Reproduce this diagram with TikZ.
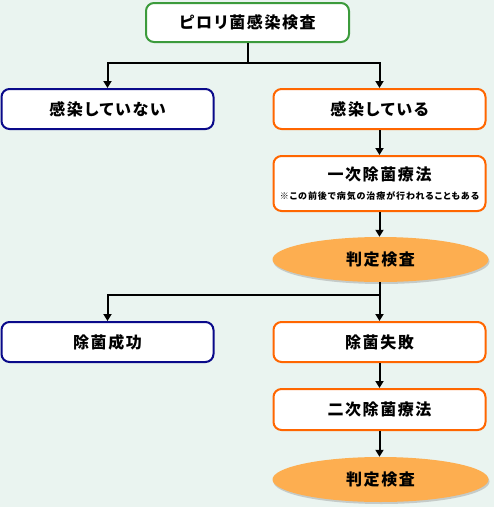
\documentclass[tikz,border=0pt]{standalone}
\usepackage{fontspec}
\newfontfamily\jpfont{Noto Sans CJK JP}[LetterSpace=10,RawFeature=+palt]
\usetikzlibrary{positioning}
\usetikzlibrary{calc}
\usetikzlibrary{arrows.meta}
\usetikzlibrary{shapes.geometric}
\usetikzlibrary{shadows}

\definecolor{bgcol}{HTML}{EAF4F0}
\definecolor{greencol}{HTML}{3C9B3C}
\definecolor{bluecol}{HTML}{0A0A8A}
\definecolor{orangecol}{HTML}{FF6600}
\definecolor{ovalcol}{HTML}{FDAE50}

\tikzset{
  stepbox/.style={draw,line width=2pt,rounded corners=8pt,fill=white,
    minimum width=212pt,minimum height=40pt,inner sep=0pt},
  ovalbox/.style={ellipse,fill=ovalcol,minimum width=216pt,minimum height=45pt,
    drop shadow={shadow xshift=1pt,shadow yshift=-2pt,opacity=0.35}},
  link/.style={line width=2pt,-{Triangle[width=8pt,length=7pt]}}
}

\begin{document}
\begin{tikzpicture}[x=1pt,y=1pt,font=\jpfont\bfseries\fontsize{16}{19}\selectfont]
\fill[bgcol] (0,0) rectangle (494,-507);
\useasboundingbox (0,0) rectangle (494,-507);

\node[stepbox,draw=greencol,minimum width=203pt,minimum height=39pt] (check) at (247.5,-22.5) {ピロリ菌感染検査};
\node[stepbox,draw=bluecol] (neg) at (107.5,-109) {感染していない};
\node[stepbox,draw=orangecol] (pos) at (379.5,-109) {感染している};
\node[stepbox,draw=orangecol,minimum height=55pt,align=center] (first) at (379.5,-183.5)
  {一次除菌療法\\[0pt]{\fontsize{9}{10}\selectfont ※この前後で病気の治療が行われることもある}};
\node[ovalbox] (judge1) at (380.5,-259.5) {判定検査};
\node[stepbox,draw=bluecol] (ok) at (107.5,-342) {除菌成功};
\node[stepbox,draw=orangecol] (fail) at (379.5,-342) {除菌失敗};
\node[stepbox,draw=orangecol,minimum height=41pt] (second) at (379.5,-409.5) {二次除菌療法};
\node[ovalbox] (judge2) at (380.5,-479.5) {判定検査};

% branches
\coordinate (split1) at ($(check.south)+(0,-19.5)$);
\draw[link] (check.south) -- (split1) -| (neg.north);
\draw[link] (split1) -| (pos.north);
\coordinate (split2) at ($(pos.south|-judge1.south)+(0,-13)$);
\draw[link] (pos.south|-judge1.south) -- (split2) -| (ok.north);
\draw[link] (split2) -- (fail.north);

% straight steps
\path[link]
  (pos) edge (first)
  (first) edge (pos.south|-judge1.north)
  (fail) edge (second)
  (second) edge (pos.south|-judge2.north);
\end{tikzpicture}
\end{document}
